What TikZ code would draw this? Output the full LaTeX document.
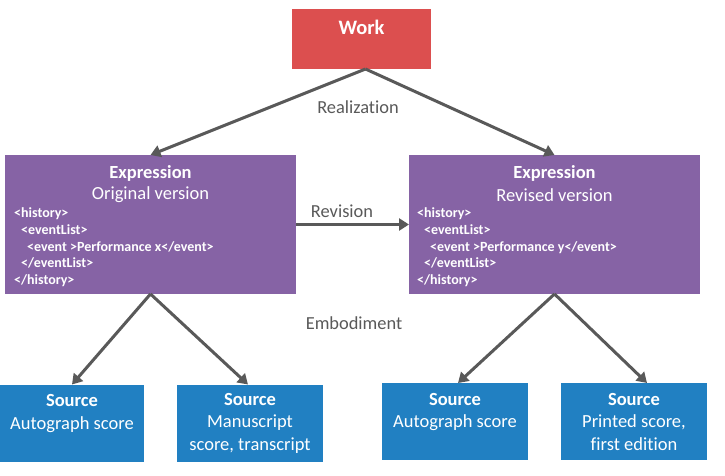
\documentclass[tikz,border=0pt]{standalone}
\usepackage{fontspec}
\setmainfont{Carlito}[Ligatures={NoCommon}]
\usetikzlibrary{arrows.meta}
\definecolor{workred}{RGB}{220,79,79}
\definecolor{exprpurple}{RGB}{134,99,165}
\definecolor{srcblue}{RGB}{33,128,194}
\definecolor{arrowgray}{RGB}{89,89,89}
\definecolor{labelgray}{RGB}{89,89,89}
\begin{document}
\begin{tikzpicture}[x=1pt,y=-1pt,
  box/.style={draw=none,inner sep=0pt,outer sep=0pt},
  workbox/.style={box,fill=workred,minimum width=139pt,minimum height=60pt},
  exprbox/.style={box,fill=exprpurple,minimum width=291pt,minimum height=139pt},
  srcbox/.style={box,fill=srcblue,minimum width=146pt,minimum height=77pt,text=white,align=center,font=\fontsize{18.5}{22.5}\selectfont},
  title/.style={text=white,inner sep=0pt,align=center},
  xml/.style={text=white,inner sep=0pt,align=left,font=\bfseries\fontsize{14}{16.8}\selectfont},
  rel/.style={text=labelgray,inner sep=0pt,font=\fontsize{18.4}{22}\selectfont},
  conn/.style={draw=arrowgray,line width=3pt,-{Triangle[length=10pt,width=12pt]}},
]
\useasboundingbox (0,0) rectangle (725,476);
\fill[white] (0,0) rectangle (725,476);

% Work
\node[workbox] (work) at (361.5,39) {};
\node[title,font=\bfseries\fontsize{20.5}{24}\selectfont] (worklabel) at (361.5,27) {Work};

% Expressions
\node[exprbox] (exprL) at (150.5,224.5) {};
\node[title,font=\bfseries\fontsize{18.5}{22}\selectfont] (exprLt) at (150.5,173) {Expression};
\node[title,font=\fontsize{18.5}{22}\selectfont] (exprLs) at (150.5,195) {Original version};
\node[xml,anchor=north west] (exprLx) at (14,207.5) {<history>\\\hspace{7pt}<eventList>\\\hspace{13pt}<event >Performance x</event>\\\hspace{7pt}</eventList>\\</history>};

\node[exprbox] (exprR) at (554.5,224.5) {};
\node[title,font=\bfseries\fontsize{18.5}{22}\selectfont] (exprRt) at (554.5,173) {Expression};
\node[title,font=\fontsize{18.5}{22}\selectfont] (exprRs) at (554.5,195) {Revised version};
\node[xml,anchor=north west] (exprRx) at (417,207.5) {<history>\\\hspace{7pt}<eventList>\\\hspace{13pt}<event >Performance y</event>\\\hspace{7pt}</eventList>\\</history>};

% Sources
\node[srcbox,minimum width=144pt] (src1) at (72,423) {\textbf{Source}\\Autograph score\\\mbox{}};
\node[srcbox] (src2) at (250,423) {\textbf{Source}\\Manuscript\\score, transcript};
\node[srcbox] (src3) at (455,421.5) {\textbf{Source}\\Autograph score\\\mbox{}};
\node[srcbox] (src4) at (634,421.5) {\textbf{Source}\\Printed score,\\first edition};

% Relation labels
\node[rel] (realization) at (358,107) {Realization};
\node[rel] (revision) at (342,211) {Revision};
\node[rel] (embodiment) at (354,323) {Embodiment};

% Connectors
\draw[conn] ([xshift=4pt]work.south) -- (exprL.north);
\draw[conn] ([xshift=4pt]work.south) -- (exprR.north);
\draw[conn] (exprL.east) -- (exprR.west);
\draw[conn] (exprL.south) -- (src1.north);
\draw[conn] (exprL.south) -- ([xshift=-2pt]src2.north);
\draw[conn] (exprR.south) -- ([xshift=3pt]src3.north);
\draw[conn] (exprR.south) -- ([xshift=13pt]src4.north);
\end{tikzpicture}
\end{document}
